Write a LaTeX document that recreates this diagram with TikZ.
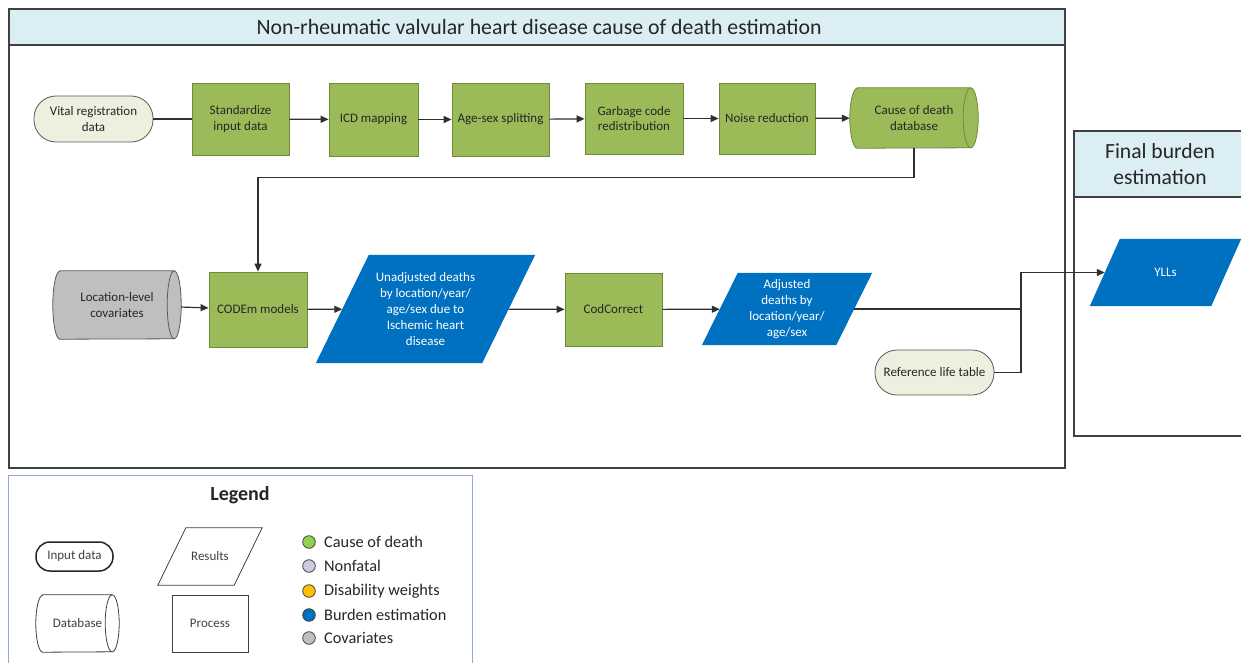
\documentclass[tikz,border=0pt]{standalone}
\usepackage{fontspec}
\setmainfont{Carlito}
\usetikzlibrary{arrows.meta,calc,backgrounds}

\definecolor{procgreen}{HTML}{9BBB59}
\definecolor{procline}{HTML}{6F8A3A}
\definecolor{termfill}{HTML}{EBF1DE}
\definecolor{termline}{HTML}{5A5A5A}
\definecolor{resblue}{HTML}{0070C0}
\definecolor{covgrey}{HTML}{BFBFBF}
\definecolor{headfill}{HTML}{DAEEF3}
\definecolor{frameline}{HTML}{404040}
\definecolor{legline}{HTML}{8EAADB}
\definecolor{wire}{HTML}{303030}
\definecolor{txt}{HTML}{262626}
\definecolor{dotgreen}{HTML}{92D050}
\definecolor{dotlav}{HTML}{CCCCE0}
\definecolor{dotgold}{HTML}{FFC000}
\definecolor{dotblue}{HTML}{0070C0}
\definecolor{dotgrey}{HTML}{BFBFBF}

% parallelogram behind a text node: node name, half slant, path style
\newcommand\slantfill[3]{%
  \begin{scope}[on background layer]
    \path[#3] ($(#1.south west)+(-#2,0)$) -- ($(#1.south east)+(-#2,0)$)
      -- ($(#1.north east)+(#2,0)$) -- ($(#1.north west)+(#2,0)$) -- cycle;
  \end{scope}}

% lying drum (database) behind a text node: node name, end x radius, end y radius, path style
\newcommand\drumfill[4]{%
  \begin{scope}[on background layer]
    \path[#4] ($(#1.north west)+(#2,0)$) -- ($(#1.north east)+(-#2,0)$)
      arc[start angle=-90,end angle=90,x radius=#2,y radius=#3]
      -- ($(#1.south west)+(#2,0)$)
      arc[start angle=90,end angle=270,x radius=#2,y radius=#3] -- cycle;
    \path[#4,fill=none] ($(#1.north east)+(-#2,0)$)
      arc[start angle=-90,end angle=-270,x radius=#2,y radius=#3];
  \end{scope}}

\begin{document}
\begin{tikzpicture}[x=1pt,y=-1pt,
  every node/.style={font=\fontsize{13}{15.8}\selectfont, align=center, inner sep=0pt, text=txt},
  proc/.style={draw=procline, fill=procgreen, line width=0.8pt},
  term/.style={draw=termline, fill=termfill, line width=0.8pt, rounded corners=#1},
  bare/.style={draw=none, fill=none},
  arr/.style={draw=wire, line width=1.2pt, -{Triangle[length=8pt,width=7pt]}},
  link/.style={draw=wire, line width=1.2pt},
  dot/.style={circle, draw=frameline, line width=0.8pt, minimum size=12.6pt},
  legtext/.style={anchor=west, font=\fontsize{16.3}{18}\selectfont},
  legshape/.style={draw=frameline, fill=white, line width=0.8pt, text=frameline}]

\clip (0,0) rectangle (1241,663);
\begin{scope}[on background layer]
  \fill[white] (0,0) rectangle (1241,663);
\end{scope}

% ---- cause of death estimation panel
\draw[frameline, line width=1.5pt, fill=headfill] (9,9) rectangle (1065,45);
\draw[frameline, line width=1.5pt] (9,9) rectangle (1065,468);
\node[font=\fontsize{21.8}{24}\selectfont] (maintitle) at (539,27)
  {Non-rheumatic valvular heart disease cause of death estimation};

% ---- final burden panel
\draw[frameline, line width=1.5pt, fill=headfill] (1074,131) rectangle (1250,197);
\draw[frameline, line width=1.5pt] (1074,131) rectangle (1250,436);
\node[font=\fontsize{21.6}{26}\selectfont] (burdentitle) at (1160,164)
  {Final burden\\estimation};

% ---- top row
\node[term=22pt, minimum width=119pt, minimum height=46pt] (vr) at (93.5,119) {Vital registration\\data};
\node[proc, minimum width=97pt, minimum height=72pt] (std) at (240.5,119) {Standardize\\input data};
\node[proc, minimum width=89pt, minimum height=73pt] (icd) at (373.5,119.5) {ICD mapping};
\node[proc, minimum width=97pt, minimum height=73pt] (age) at (500.5,119.5) {Age-sex splitting};
\node[proc, minimum width=98pt, minimum height=71pt] (garb) at (634,118.5) {Garbage code\\redistribution};
\node[proc, minimum width=96pt, minimum height=71pt] (noise) at (767,118.5) {Noise reduction};
\node[bare, minimum width=128pt, minimum height=60pt] (db) at (914,118) {Cause of death\\database};
\drumfill{db}{7.5}{30}{draw=procline, fill=procgreen, line width=0.8pt}

% ---- second row
\node[bare, minimum width=128pt, minimum height=68pt] (cov) at (117,305) {Location-level\\covariates};
\drumfill{cov}{7}{34}{draw=termline, fill=covgrey, line width=0.8pt}
\node[proc, minimum width=98pt, minimum height=75pt] (codem) at (258,309.5) {CODEm models};
\node[bare, minimum width=166pt, minimum height=108pt, text=white] (unadj) at (425.5,309)
  {Unadjusted deaths\\by location/year/\\age/sex due to\\Ischemic heart\\disease};
\slantfill{unadj}{26.5}{fill=resblue}
\node[proc, minimum width=97pt, minimum height=73pt] (codc) at (613.5,309.5) {CodCorrect};
\node[bare, minimum width=134pt, minimum height=72pt, text=white] (adj) at (787,309)
  {Adjusted\\deaths by\\location/year/\\age/sex};
\slantfill{adj}{18}{fill=resblue}
\node[term=22pt, minimum width=119pt, minimum height=45pt] (ref) at (934.5,372.5) {Reference life table};
\node[bare, minimum width=121pt, minimum height=67pt, text=white] (yll) at (1165.5,272.5) {YLLs};
\slantfill{yll}{15}{fill=resblue}
\coordinate (join) at (1021,309);

% ---- connectors
\draw[link] (vr) -- (std);
\draw[arr] (std) -- (icd);
\draw[arr] (icd) -- (age);
\draw[arr] (age) -- (garb);
\draw[arr] (garb) -- (noise);
\draw[arr] (noise) -- (db);
\draw[arr] (db.south) -- ++(0,29) -| (codem.north);
\draw[arr] (cov) -- (codem);
\draw[arr] (codem) -- (unadj);
\draw[arr] (unadj) -- (codc);
\draw[arr] (codc) -- (adj);
\draw[link] (adj) -- (join);
\draw[link] (ref) -| (join);
\draw[arr] (join) |- (yll);

% ---- legend
\draw[legline, line width=1pt] (8,475) rectangle (472,690);
\node[font=\bfseries\fontsize{20}{22}\selectfont] (legtitle) at (240,495) {Legend};
\node[legshape, draw=txt, line width=1.5pt, rounded corners=14pt, minimum width=77pt, minimum height=29pt] (legin) at (74.5,556.5) {Input data};
\node[bare, minimum width=76pt, minimum height=57pt, text=frameline] (legres) at (210,556.5) {Results};
\slantfill{legres}{14}{draw=frameline, fill=white, line width=0.8pt}
\node[bare, minimum width=83pt, minimum height=57pt, text=frameline] (legdb) at (77.5,623.5) {Database};
\drumfill{legdb}{7}{28.5}{draw=frameline, fill=white, line width=0.8pt}
\node[legshape, minimum width=76pt, minimum height=57pt] (legproc) at (210,623.5) {Process};

\node[dot, fill=dotgreen] (d1) at (309,542) {};
\node[dot, fill=dotlav] (d2) at (309,566) {};
\node[dot, fill=dotgold] (d3) at (309,591) {};
\node[dot, fill=dotblue] (d4) at (309,615) {};
\node[dot, fill=dotgrey] (d5) at (309,638) {};
\node[legtext] (l1) at (324,542) {Cause of death};
\node[legtext] (l2) at (324,566) {Nonfatal};
\node[legtext] (l3) at (324,591) {Disability weights};
\node[legtext] (l4) at (324,615) {Burden estimation};
\node[legtext] (l5) at (324,638) {Covariates};
\end{tikzpicture}
\end{document}
